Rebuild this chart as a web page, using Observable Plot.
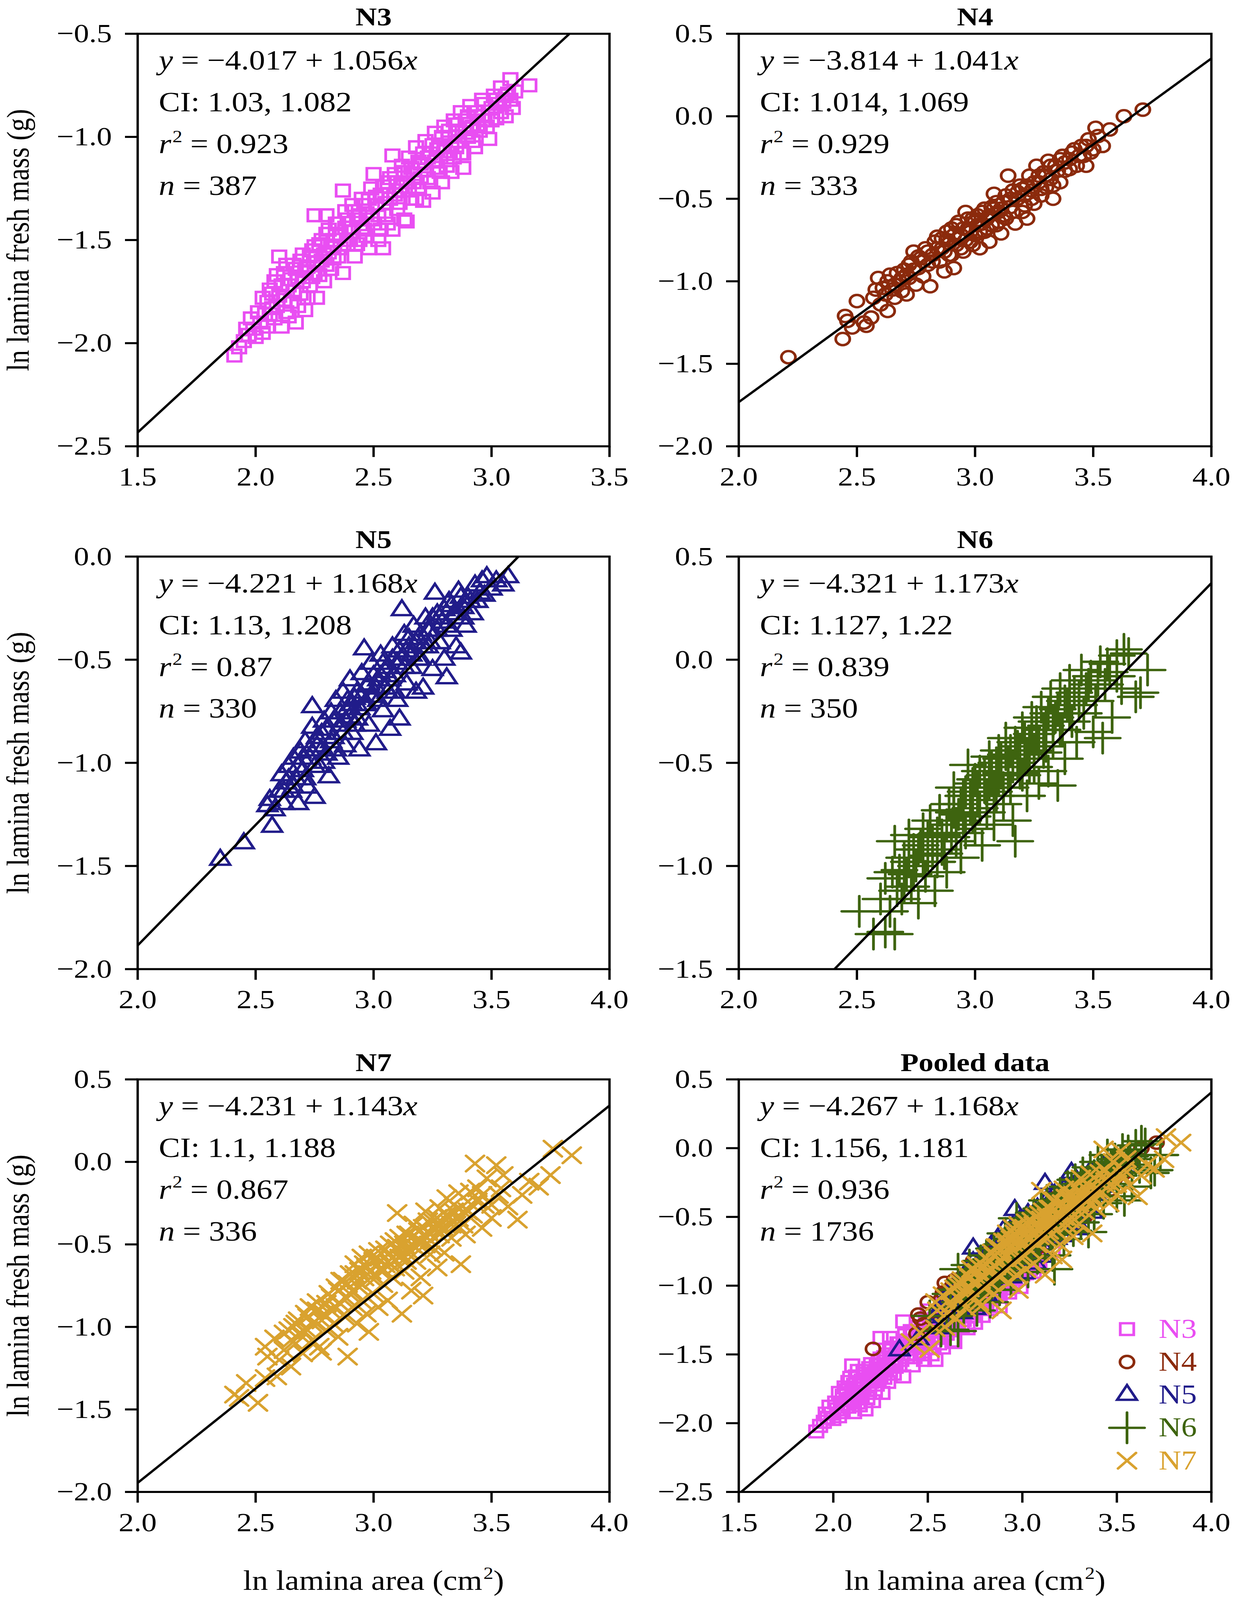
<!DOCTYPE html>
<html>
<head>
<meta charset="utf-8">
<script src="https://cdn.jsdelivr.net/npm/d3@7"></script>
<script src="https://cdn.jsdelivr.net/npm/@observablehq/plot@0.6"></script>
<style>
html, body { margin: 0; padding: 0; background: #fff; overflow: hidden; }
#wrap { width: 3162px; overflow: hidden; }
#grid { display: grid; grid-template-columns: 1581px 1581px; grid-template-rows: 1541px 1541px 1634px; width: 3162px; height: 4716px; transform-origin: 0 0; }
#grid svg { overflow: visible; max-width: none; }
[aria-label="x-axis"] line, [aria-label="y-axis"] line,
[aria-label="x-axis tick"], [aria-label="y-axis tick"],
[aria-label="x-axis tick"] path, [aria-label="y-axis tick"] path { stroke-width: 6px; }
</style>
</head>
<body>
<div id="wrap"><div id="grid"></div></div>
<script>
// ---------- series ----------
const seriesNames = ["N3", "N4", "N5", "N6", "N7"];
const seriesColors = ["#e94ef2", "#8b2a0c", "#211c8a", "#3e640f", "#d9a22f"];
const seriesSymbols = ["square2", "circle", "triangle2", "plus", "times"];
const seriesRadius = [22, 18, 24, 29, 21];

// ---------- panels ----------
const panelTitles = ["N3", "N4", "N5", "N6", "N7", "Pooled data"];
const panelSeries = [[0], [1], [2], [3], [4], [0, 1, 2, 3, 4]];
const intercepts = [-4.017, -3.814, -4.221, -4.321, -4.231, -4.267];
const slopes = [1.056, 1.041, 1.168, 1.173, 1.143, 1.168];
const ciLow = [1.03, 1.014, 1.13, 1.127, 1.1, 1.156];
const ciHigh = [1.082, 1.069, 1.208, 1.22, 1.188, 1.181];
const rSquared = [0.923, 0.929, 0.87, 0.839, 0.867, 0.936];
const sampleSizes = [387, 333, 330, 350, 336, 1736];
const xDomains = [[1.5, 3.5], [2, 4], [2, 4], [2, 4], [2, 4], [1.5, 4]];
const yDomains = [[-2.5, -0.5], [-2, 0.5], [-2, 0], [-1.5, 0.5], [-2, 0.5], [-2.5, 0.5]];
const xTickValues = [
  [1.5, 2.0, 2.5, 3.0, 3.5],
  [2.0, 2.5, 3.0, 3.5, 4.0],
  [2.0, 2.5, 3.0, 3.5, 4.0],
  [2.0, 2.5, 3.0, 3.5, 4.0],
  [2.0, 2.5, 3.0, 3.5, 4.0],
  [1.5, 2.0, 2.5, 3.0, 3.5, 4.0]
];
const yTickValues = [
  [-2.5, -2.0, -1.5, -1.0, -0.5],
  [-2.0, -1.5, -1.0, -0.5, 0.0, 0.5],
  [-2.0, -1.5, -1.0, -0.5, 0.0],
  [-1.5, -1.0, -0.5, 0.0, 0.5],
  [-2.0, -1.5, -1.0, -0.5, 0.0, 0.5],
  [-2.5, -2.0, -1.5, -1.0, -0.5, 0.0, 0.5]
];
const xAxisTitle = "ln lamina area (cm<sup>2</sup>)";
const yAxisTitle = "ln lamina fresh mass (g)";

// ---------- points (ln area, ln fresh mass) ----------
const n3Points = [
[1.91,-2.06],[1.93,-2.02],[1.95,-1.99],[1.97,-1.96],[1.99,-1.93],[2.00,-1.97],[2.02,-1.90],[2.03,-1.95],[2.04,-1.86],[2.05,-1.80],
[2.05,-1.92],[2.06,-1.74],[2.07,-1.83],[2.08,-1.70],[2.08,-1.88],[2.10,-1.58],[2.10,-1.77],[2.11,-1.92],[2.12,-1.66],[2.13,-1.85],
[2.14,-1.72],[2.15,-1.80],[2.16,-1.62],[2.17,-1.90],[2.18,-1.68],[2.19,-1.76],[2.20,-1.57],[2.21,-1.84],[2.22,-1.63],[2.23,-1.72],
[2.24,-1.55],[2.25,-1.38],[2.25,-1.66],[2.26,-1.78],[2.27,-1.52],[2.28,-1.60],[2.29,-1.70],[2.30,-1.38],[2.30,-1.47],[2.31,-1.56],
[2.32,-1.64],[2.33,-1.50],[2.34,-1.42],[2.35,-1.58],[2.36,-1.47],[2.37,-1.26],[2.37,-1.66],[2.38,-1.36],[2.39,-1.52],[2.40,-1.44],
[2.41,-1.33],[2.42,-1.58],[2.43,-1.40],[2.44,-1.50],[2.45,-1.30],[2.46,-1.45],[2.47,-1.37],[2.48,-1.54],[2.49,-1.25],[2.50,-1.18],
[2.50,-1.42],[2.51,-1.33],[2.52,-1.50],[2.53,-1.28],[2.54,-1.54],[2.55,-1.38],[2.56,-1.22],[2.57,-1.30],[2.58,-1.09],[2.58,-1.45],
[2.59,-1.18],[2.60,-1.35],[2.61,-1.26],[2.62,-1.14],[2.63,-1.40],[2.64,-1.41],[2.64,-1.22],[2.65,-1.10],[2.66,-1.30],[2.67,-1.18],
[2.68,-1.05],[2.69,-1.25],[2.70,-1.13],[2.71,-1.31],[2.72,-1.02],[2.73,-1.20],[2.74,-1.08],[2.75,-1.27],[2.76,-0.98],[2.77,-1.15],
[2.78,-1.05],[2.79,-1.22],[2.80,-0.95],[2.81,-1.10],[2.82,-1.00],[2.83,-1.17],[2.84,-0.92],[2.85,-1.05],[2.86,-0.97],[2.87,-0.88],
[2.88,-1.15],[2.88,-1.08],[2.89,-0.92],[2.90,-1.00],[2.91,-0.85],[2.92,-0.95],[2.93,-1.05],[2.94,-0.88],[2.95,-0.97],[2.96,-0.82],
[2.97,-0.92],[2.99,-1.01],[3.00,-0.86],[3.01,-0.80],[3.02,-0.91],[3.03,-0.84],[3.04,-0.76],[3.05,-0.83],[3.06,-0.90],[3.07,-0.79],
[3.08,-0.72],[3.09,-0.86],[3.10,-0.78],[3.16,-0.75],
[1.96,-1.93],[1.98,-1.88],[2.01,-1.85],[2.03,-1.78],[2.06,-1.86],[2.07,-1.76],[2.09,-1.82],[2.09,-1.67],[2.11,-1.72],[2.12,-1.79],
[2.13,-1.62],[2.14,-1.87],[2.15,-1.69],[2.16,-1.75],[2.17,-1.64],[2.18,-1.82],[2.19,-1.60],[2.20,-1.70],[2.21,-1.65],[2.22,-1.78],
[2.23,-1.58],[2.24,-1.68],[2.25,-1.53],[2.26,-1.61],[2.27,-1.67],[2.28,-1.50],[2.29,-1.57],[2.30,-1.62],[2.31,-1.45],[2.32,-1.53],
[2.33,-1.59],[2.34,-1.48],[2.35,-1.42],[2.36,-1.54],[2.38,-1.44],[2.39,-1.40],[2.40,-1.50],[2.41,-1.46],[2.42,-1.36],[2.43,-1.52],
[2.44,-1.38],[2.45,-1.44],[2.46,-1.33],[2.47,-1.48],[2.48,-1.30],[2.49,-1.40],[2.51,-1.29],[2.52,-1.38],[2.53,-1.45],[2.54,-1.24],
[2.55,-1.32],[2.56,-1.42],[2.57,-1.20],[2.59,-1.28],[2.60,-1.22],[2.61,-1.32],[2.62,-1.24],[2.63,-1.17],[2.65,-1.26],[2.66,-1.15],
[2.67,-1.22],[2.68,-1.30],[2.69,-1.12],[2.70,-1.20],[2.71,-1.08],[2.72,-1.16],[2.73,-1.10],[2.74,-1.22],[2.75,-1.04],[2.76,-1.12],
[2.77,-1.06],[2.78,-1.17],[2.79,-1.00],[2.80,-1.07],[2.81,-1.14],[2.82,-0.97],[2.83,-1.04],[2.84,-1.10],[2.85,-0.94],[2.86,-1.02],
[2.87,-1.08],[2.89,-0.98],[2.90,-0.90],[2.91,-0.96],[2.92,-1.02],[2.93,-0.88],[2.94,-0.94],[2.96,-0.90],[2.97,-0.84],[2.98,-0.95],
[3.00,-0.92],[3.02,-0.82],[3.04,-0.88],[3.06,-0.80],[3.08,-0.82]
];
const n4Points = [
[2.21,-1.46],[2.44,-1.35],[2.45,-1.21],[2.46,-1.24],[2.48,-1.28],[2.50,-1.12],[2.53,-1.25],[2.54,-1.27],[2.56,-1.22],[2.57,-1.10],
[2.58,-1.05],[2.59,-0.98],[2.60,-1.14],[2.62,-1.08],[2.63,-1.18],[2.64,-0.96],[2.65,-1.05],[2.66,-1.10],[2.68,-1.00],[2.69,-1.06],
[2.70,-0.93],[2.71,-1.08],[2.72,-0.98],[2.73,-0.88],[2.74,-0.82],[2.75,-1.02],[2.76,-0.92],[2.77,-0.86],[2.78,-0.97],[2.79,-0.80],
[2.80,-0.90],[2.81,-1.03],[2.82,-0.84],[2.83,-0.76],[2.84,-0.73],[2.85,-0.88],[2.86,-0.80],[2.87,-0.94],[2.88,-0.75],[2.89,-0.84],
[2.90,-0.68],[2.91,-0.92],[2.92,-0.78],[2.93,-0.64],[2.94,-0.72],[2.95,-0.82],[2.96,-0.58],[2.97,-0.68],[2.98,-0.76],[2.99,-0.62],
[3.00,-0.72],[3.01,-0.66],[3.02,-0.80],[3.03,-0.58],[3.04,-0.70],[3.05,-0.62],[3.06,-0.76],[3.07,-0.55],[3.08,-0.47],[3.09,-0.66],
[3.10,-0.58],[3.11,-0.71],[3.12,-0.52],[3.13,-0.62],[3.14,-0.36],[3.15,-0.55],[3.16,-0.45],[3.17,-0.65],[3.18,-0.50],[3.19,-0.42],
[3.20,-0.58],[3.21,-0.48],[3.22,-0.62],[3.23,-0.36],[3.24,-0.45],[3.25,-0.53],[3.26,-0.30],[3.27,-0.40],[3.28,-0.48],[3.29,-0.34],
[3.30,-0.43],[3.31,-0.27],[3.32,-0.38],[3.33,-0.50],[3.34,-0.30],[3.36,-0.40],[3.37,-0.24],[3.38,-0.33],[3.40,-0.26],[3.42,-0.20],
[3.43,-0.30],[3.45,-0.18],[3.46,-0.24],[3.47,-0.30],[3.48,-0.14],[3.50,-0.20],[3.51,-0.07],[3.52,-0.12],[3.54,-0.18],[3.57,-0.08],
[3.63,0.00],[3.71,0.04],
[2.61,-1.04],[2.63,-1.00],[2.66,-1.02],[2.67,-0.95],[2.69,-0.98],[2.71,-0.96],[2.72,-0.90],[2.74,-0.93],[2.76,-0.85],[2.78,-0.88],
[2.80,-0.82],[2.82,-0.88],[2.84,-0.80],[2.86,-0.74],[2.87,-0.82],[2.88,-0.70],[2.89,-0.77],[2.90,-0.84],[2.91,-0.72],[2.92,-0.66],
[2.93,-0.74],[2.94,-0.80],[2.95,-0.68],[2.96,-0.75],[2.97,-0.62],[2.98,-0.70],[2.99,-0.78],[3.00,-0.64],[3.01,-0.60],[3.02,-0.70],
[3.03,-0.65],[3.04,-0.56],[3.05,-0.68],[3.06,-0.60],[3.07,-0.66],[3.08,-0.56],[3.09,-0.52],[3.10,-0.64],[3.11,-0.56],[3.12,-0.60],
[3.13,-0.48],[3.15,-0.50],[3.16,-0.58],[3.18,-0.46],[3.20,-0.44],[3.21,-0.54],[3.22,-0.42],[3.24,-0.50],[3.25,-0.40],[3.27,-0.36],
[3.28,-0.44],[3.30,-0.36],[3.32,-0.30],[3.33,-0.42],[3.35,-0.33],[3.36,-0.26],[3.38,-0.28],[3.40,-0.32],[3.41,-0.22],[3.44,-0.24],
[3.47,-0.18],[3.49,-0.22]
];
const n5Points = [
[2.35,-1.47],[2.45,-1.39],[2.57,-1.31],[2.55,-1.21],[2.56,-1.18],[2.58,-1.23],[2.60,-1.14],[2.61,-1.06],[2.62,-1.20],[2.63,-1.10],
[2.64,-1.02],[2.65,-1.14],[2.66,-0.98],[2.67,-1.08],[2.68,-1.20],[2.69,-0.95],[2.70,-1.04],[2.71,-0.90],[2.72,-1.12],[2.73,-0.98],
[2.74,-0.73],[2.74,-0.83],[2.75,-1.17],[2.76,-0.92],[2.77,-1.02],[2.78,-0.86],[2.79,-0.80],[2.80,-0.96],[2.81,-1.07],[2.82,-0.76],
[2.83,-0.88],[2.84,-0.70],[2.85,-0.98],[2.86,-0.82],[2.87,-0.66],[2.88,-0.92],[2.89,-0.74],[2.90,-0.60],[2.91,-0.86],[2.92,-0.69],
[2.93,-0.79],[2.94,-0.94],[2.95,-0.57],[2.96,-0.45],[2.96,-0.72],[2.97,-0.63],[2.98,-0.82],[2.99,-0.52],[3.00,-0.68],[3.01,-0.91],
[3.02,-0.60],[3.03,-0.48],[3.04,-0.75],[3.05,-0.56],[3.06,-0.66],[3.07,-0.84],[3.08,-0.44],[3.09,-0.58],[3.10,-0.70],[3.11,-0.79],
[3.12,-0.26],[3.12,-0.50],[3.13,-0.38],[3.14,-0.62],[3.15,-0.44],[3.16,-0.54],[3.17,-0.34],[3.18,-0.66],[3.19,-0.40],[3.20,-0.50],
[3.21,-0.64],[3.22,-0.30],[3.23,-0.44],[3.24,-0.36],[3.25,-0.55],[3.26,-0.18],[3.27,-0.28],[3.28,-0.42],[3.29,-0.32],[3.30,-0.50],
[3.31,-0.59],[3.32,-0.22],[3.33,-0.36],[3.34,-0.28],[3.35,-0.44],[3.36,-0.17],[3.37,-0.47],[3.38,-0.25],[3.39,-0.34],[3.40,-0.20],
[3.42,-0.28],[3.43,-0.14],[3.44,-0.22],[3.46,-0.12],[3.47,-0.19],[3.48,-0.10],[3.50,-0.16],[3.52,-0.12],[3.55,-0.14],[3.57,-0.10],
[2.62,-1.14],[2.64,-1.08],[2.66,-1.12],[2.68,-1.02],[2.70,-0.98],[2.71,-1.08],[2.73,-0.94],[2.75,-1.02],[2.76,-0.88],[2.78,-0.94],
[2.79,-1.00],[2.80,-0.84],[2.82,-0.90],[2.83,-0.80],[2.84,-0.94],[2.86,-0.76],[2.87,-0.86],[2.88,-0.80],[2.89,-0.70],[2.90,-0.78],
[2.91,-0.72],[2.92,-0.82],[2.93,-0.66],[2.94,-0.74],[2.95,-0.68],[2.97,-0.72],[2.98,-0.62],[2.99,-0.68],[3.00,-0.58],[3.01,-0.64],
[3.02,-0.70],[3.03,-0.58],[3.04,-0.52],[3.05,-0.64],[3.06,-0.54],[3.07,-0.60],[3.08,-0.50],[3.09,-0.66],[3.10,-0.52],[3.11,-0.46],
[3.13,-0.54],[3.14,-0.46],[3.15,-0.40],[3.16,-0.48],[3.18,-0.42],[3.19,-0.50],[3.20,-0.38],[3.21,-0.44],[3.23,-0.36],[3.24,-0.42],
[3.25,-0.30],[3.27,-0.36],[3.28,-0.30],[3.30,-0.26],[3.31,-0.34],[3.33,-0.24],[3.35,-0.28],[3.37,-0.20],[3.38,-0.30],[3.41,-0.22],
[3.45,-0.18]
];
const n6Points = [
[2.51,-1.22],[2.57,-1.33],[2.62,-1.32],[2.66,-1.33],[2.64,-1.22],[2.60,-1.16],[2.62,-1.06],[2.65,-1.03],[2.66,-0.88],[2.67,-1.12],
[2.69,-1.16],[2.70,-0.96],[2.71,-1.04],[2.72,-0.85],[2.73,-1.10],[2.74,-0.92],[2.75,-1.00],[2.76,-1.18],[2.77,-0.90],[2.78,-0.82],
[2.79,-1.05],[2.80,-0.95],[2.81,-0.78],[2.82,-0.88],[2.83,-1.12],[2.84,-0.98],[2.85,-0.73],[2.86,-0.85],[2.87,-0.94],[2.88,-1.03],
[2.89,-0.70],[2.90,-0.80],[2.91,-0.62],[2.92,-0.88],[2.93,-0.75],[2.94,-0.96],[2.95,-0.66],[2.96,-0.84],[2.97,-0.51],[2.98,-0.72],
[2.99,-0.60],[3.00,-0.82],[3.01,-0.68],[3.02,-0.54],[3.03,-0.90],[3.04,-0.62],[3.05,-0.74],[3.06,-0.47],[3.07,-0.58],[3.08,-0.80],
[3.09,-0.66],[3.10,-0.44],[3.11,-0.55],[3.12,-0.70],[3.13,-0.38],[3.14,-0.50],[3.15,-0.62],[3.16,-0.78],[3.17,-0.88],[3.18,-0.42],
[3.19,-0.55],[3.20,-0.33],[3.21,-0.48],[3.22,-0.66],[3.23,-0.40],[3.24,-0.28],[3.25,-0.52],[3.26,-0.36],[3.27,-0.60],[3.28,-0.23],
[3.29,-0.45],[3.30,-0.32],[3.31,-0.54],[3.32,-0.18],[3.33,-0.40],[3.34,-0.28],[3.35,-0.61],[3.36,-0.14],[3.37,-0.34],[3.38,-0.48],
[3.39,-0.22],[3.40,-0.10],[3.41,-0.30],[3.43,-0.40],[3.44,-0.18],[3.45,-0.05],[3.46,-0.26],[3.48,-0.12],[3.50,-0.35],[3.51,-0.20],
[3.53,-0.01],[3.54,-0.38],[3.55,-0.12],[3.57,-0.06],[3.58,-0.28],[3.60,0.02],[3.62,-0.14],[3.63,0.05],[3.65,0.03],[3.68,-0.18],
[3.70,-0.16],[3.73,-0.05],
[2.68,-1.02],[2.70,-1.10],[2.72,-0.98],[2.74,-1.04],[2.76,-0.92],[2.78,-0.98],[2.80,-0.86],[2.82,-0.94],[2.84,-0.84],[2.86,-0.92],
[2.88,-0.80],[2.90,-0.86],[2.91,-0.74],[2.92,-0.80],[2.94,-0.70],[2.95,-0.78],[2.96,-0.64],[2.98,-0.66],[2.99,-0.76],[3.00,-0.58],
[3.01,-0.62],[3.02,-0.72],[3.04,-0.56],[3.05,-0.66],[3.06,-0.60],[3.07,-0.52],[3.08,-0.64],[3.09,-0.50],[3.10,-0.58],[3.11,-0.48],
[3.12,-0.62],[3.13,-0.46],[3.14,-0.56],[3.15,-0.44],[3.16,-0.52],[3.17,-0.40],[3.18,-0.50],[3.19,-0.44],[3.20,-0.56],[3.21,-0.38],
[3.22,-0.46],[3.23,-0.52],[3.24,-0.36],[3.25,-0.44],[3.26,-0.30],[3.27,-0.40],[3.29,-0.34],[3.30,-0.42],[3.31,-0.26],[3.33,-0.30],
[3.35,-0.24],[3.36,-0.34],[3.38,-0.20],[3.40,-0.26],[3.42,-0.16],[3.44,-0.22],[3.47,-0.14],[3.49,-0.08],[3.52,-0.10],[3.56,-0.02],
[3.60,-0.08]
];
const n7Points = [
[2.41,-1.41],[2.43,-1.43],[2.51,-1.46],[2.46,-1.34],[2.54,-1.31],[2.59,-1.30],[2.55,-1.18],[2.54,-1.12],[2.58,-1.07],[2.60,-1.20],
[2.62,-1.14],[2.65,-1.24],[2.64,-1.02],[2.66,-1.00],[2.67,-1.10],[2.68,-0.96],[2.69,-1.05],[2.70,-1.16],[2.71,-0.92],[2.72,-1.02],
[2.73,-0.88],[2.74,-1.08],[2.75,-0.97],[2.76,-0.85],[2.77,-1.12],[2.78,-1.15],[2.79,-0.92],[2.80,-1.02],[2.81,-0.80],[2.82,-0.90],
[2.83,-0.98],[2.84,-0.76],[2.85,-1.06],[2.86,-0.86],[2.87,-0.72],[2.88,-0.94],[2.89,-1.18],[2.90,-0.80],[2.91,-0.88],[2.92,-0.68],
[2.93,-0.98],[2.94,-0.76],[2.95,-0.84],[2.96,-0.62],[2.97,-0.92],[2.98,-1.03],[2.99,-0.70],[3.00,-0.80],[3.01,-0.58],[3.02,-0.88],
[3.03,-0.66],[3.04,-0.74],[3.05,-0.53],[3.06,-0.84],[3.07,-0.62],[3.08,-0.70],[3.09,-0.48],[3.10,-0.31],[3.11,-0.58],[3.12,-0.92],
[3.13,-0.66],[3.14,-0.44],[3.15,-0.54],[3.16,-0.78],[3.17,-0.38],[3.18,-0.60],[3.19,-0.48],[3.20,-0.70],[3.21,-0.81],[3.22,-0.30],
[3.23,-0.42],[3.24,-0.56],[3.25,-0.36],[3.26,-0.50],[3.27,-0.64],[3.28,-0.28],[3.29,-0.40],[3.30,-0.55],[3.31,-0.22],[3.32,-0.34],
[3.33,-0.46],[3.34,-0.26],[3.35,-0.38],[3.36,-0.19],[3.37,-0.62],[3.38,-0.30],[3.39,-0.44],[3.40,-0.24],[3.42,-0.32],[3.43,-0.01],
[3.44,-0.16],[3.46,-0.40],[3.47,-0.26],[3.48,-0.10],[3.50,-0.34],[3.52,-0.02],[3.53,-0.20],[3.55,-0.08],[3.57,-0.27],[3.61,-0.35],
[3.63,-0.20],[3.66,-0.12],[3.70,-0.15],[3.75,-0.08],[3.76,0.08],[3.84,0.04],
[2.62,-1.04],[2.65,-1.08],[2.67,-0.98],[2.70,-1.02],[2.72,-0.94],[2.74,-0.98],[2.76,-0.90],[2.78,-0.96],[2.80,-0.86],[2.82,-0.82],
[2.84,-0.88],[2.85,-0.78],[2.86,-0.72],[2.88,-0.82],[2.89,-0.74],[2.90,-0.68],[2.91,-0.78],[2.92,-0.62],[2.93,-0.72],[2.94,-0.66],
[2.95,-0.58],[2.96,-0.70],[2.97,-0.64],[2.98,-0.56],[2.99,-0.66],[3.00,-0.60],[3.01,-0.70],[3.02,-0.54],[3.03,-0.60],[3.04,-0.66],
[3.05,-0.62],[3.06,-0.56],[3.07,-0.50],[3.08,-0.58],[3.09,-0.64],[3.10,-0.52],[3.11,-0.46],[3.12,-0.56],[3.13,-0.50],[3.14,-0.60],
[3.15,-0.44],[3.16,-0.50],[3.18,-0.52],[3.19,-0.42],[3.20,-0.48],[3.21,-0.40],[3.22,-0.50],[3.23,-0.36],[3.24,-0.44],[3.25,-0.52],
[3.26,-0.40],[3.27,-0.34],[3.28,-0.44],[3.30,-0.40],[3.31,-0.32],[3.33,-0.38],[3.34,-0.30],[3.36,-0.34],[3.38,-0.38],[3.40,-0.30],
[3.41,-0.18],[3.44,-0.24],[3.46,-0.20],[3.50,-0.26],[3.54,-0.16]
];
const seriesPoints = [n3Points, n4Points, n5Points, n6Points, n7Points];

// ---------- helpers ----------
const fmt = d3.format(".1f");
const RICH_FS = 82;

function richify(svg) {
  d3.select(svg).selectAll("text").each(function () {
    const s = this.textContent;
    if (!s.includes("<")) return;
    while (this.firstChild) this.removeChild(this.firstChild);
    const parts = s.split(/(<\/?(?:i|sup)>)/);
    let italic = false, sup = false, restore = 0;
    const shift = RICH_FS * 0.40;
    for (const p of parts) {
      if (p === "<i>") { italic = true; continue; }
      if (p === "</i>") { italic = false; continue; }
      if (p === "<sup>") { sup = true; continue; }
      if (p === "</sup>") { sup = false; restore = shift; continue; }
      if (!p) continue;
      const ts = document.createElementNS("http://www.w3.org/2000/svg", "tspan");
      ts.textContent = p;
      if (italic) ts.setAttribute("font-style", "italic");
      if (sup) {
        ts.setAttribute("font-size", RICH_FS * 0.62);
        ts.setAttribute("dy", -shift);
        ts.setAttribute("dx", 3);
      } else if (restore) {
        ts.setAttribute("dy", restore);
        restore = 0;
      }
      this.appendChild(ts);
    }
  });
}

function panel(i) {
  const row = Math.floor(i / 2), col = i % 2;
  const W = 1581, H = row === 2 ? 1634 : 1541;
  const mL = col === 0 ? 352 : 310, frameW = col === 0 ? 1208 : 1210;
  const mT = 99, frameH = 1216;
  const mR = W - mL - frameW, mB = H - mT - frameH;
  const a = intercepts[i], b = slopes[i];
  const [x0, x1] = xDomains[i], [y0, y1] = yDomains[i];
  const xa = Math.max(x0, (y0 - a) / b), xb = Math.min(x1, (y1 - a) / b);
  const fit = [xa, xb].map(x => ({x, y: a + b * x}));

  const marks = [];
  for (const s of panelSeries[i]) {
    marks.push(Plot.dot(seriesPoints[s], {
      x: d => d[0], y: d => d[1], symbol: seriesSymbols[s], r: seriesRadius[s],
      stroke: seriesColors[s], fill: "none", strokeWidth: 7, strokeLinecap: "round"
    }));
  }
  marks.push(Plot.line(fit, {x: "x", y: "y", stroke: "black", strokeWidth: 6.5, clip: true}));
  marks.push(Plot.frame({stroke: "black", strokeWidth: 6}));

  const lines = [
    `<i>y</i> = \u2212${Math.abs(a).toFixed(3)} + ${slopes[i]}<i>x</i>`,
    `CI: ${ciLow[i]}, ${ciHigh[i]}`,
    `<i>r</i><sup>2</sup> = ${rSquared[i]}`,
    `<i>n</i> = ${sampleSizes[i]}`
  ];
  lines.forEach((t, k) => marks.push(Plot.text([t], {
    text: d => d, frameAnchor: "top-left", textAnchor: "start", lineAnchor: "bottom",
    dx: 54, dy: 106 + 123 * k, fontSize: RICH_FS, fill: "black"
  })));
  marks.push(Plot.text([panelTitles[i]], {
    text: d => d, frameAnchor: "top", lineAnchor: "bottom", dy: -25,
    fontSize: 76, fontWeight: "bold", fill: "black"
  }));
  if (col === 0) {
    marks.push(Plot.text([yAxisTitle], {
      text: d => d, frameAnchor: "left", rotate: -90, textAnchor: "middle", lineAnchor: "bottom",
      dx: -280, fontSize: 80, fill: "black"
    }));
  }
  if (row === 2) {
    marks.push(Plot.text([xAxisTitle], {
      text: d => d, frameAnchor: "bottom", lineAnchor: "bottom", dy: 289,
      fontSize: RICH_FS, fill: "black"
    }));
  }
  if (i === 5) {
    seriesNames.forEach((name, s) => {
      const dy = -92 - 97 * (seriesNames.length - 1 - s);
      marks.push(Plot.dot([name], {
        frameAnchor: "bottom-right", dx: -216, dy, symbol: seriesSymbols[s], r: seriesRadius[s],
        stroke: seriesColors[s], fill: "none", strokeWidth: 7, strokeLinecap: "round"
      }));
      marks.push(Plot.text([name], {
        text: d => d, frameAnchor: "bottom-right", textAnchor: "start", lineAnchor: "middle",
        dx: -135, dy, fontSize: 80, fill: seriesColors[s]
      }));
    });
  }

  const svg = Plot.plot({
    width: W, height: H,
    marginLeft: mL, marginRight: mR, marginTop: mT, marginBottom: mB,
    x: {domain: xDomains[i], ticks: xTickValues[i], tickFormat: fmt, tickSize: 32, tickPadding: 28, label: null},
    y: {domain: yDomains[i], ticks: yTickValues[i], tickFormat: fmt, tickSize: 32, tickPadding: 34, label: null},
    style: {fontFamily: "Liberation Serif", fontSize: "78px", background: "transparent", overflow: "visible", color: "black"},
    marks
  });
  richify(svg);
  return svg;
}

const grid = document.getElementById("grid");
for (let i = 0; i < 6; i++) {
  const cell = document.createElement("div");
  cell.style.position = "relative";
  cell.appendChild(panel(i));
  grid.appendChild(cell);
}
// The visible viewport can be shorter than the 4716 px figure; fit the figure to it vertically.
const FULL_H = 4716;
const fitScale = Math.min(1, (window.innerHeight || FULL_H) / FULL_H);
grid.style.transform = `scaleY(${fitScale})`;
document.getElementById("wrap").style.height = `${Math.floor(FULL_H * fitScale)}px`;
</script>
</body>
</html>
